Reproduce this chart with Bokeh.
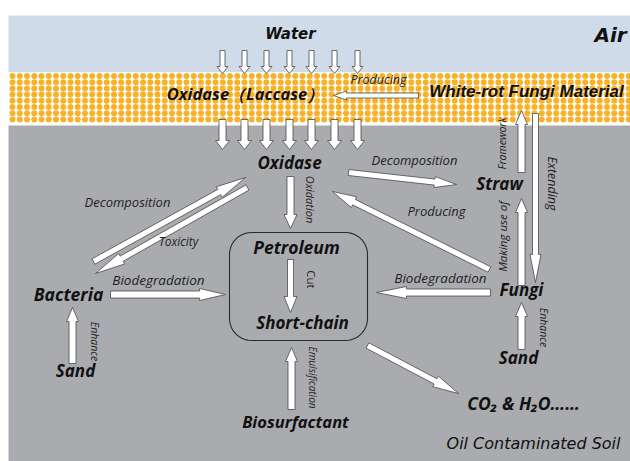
import numpy as np
from bokeh.plotting import figure
from bokeh.models import Range1d
from bokeh.core.properties import value
from bokeh.embed import file_html
from bokeh.resources import INLINE

# ---------------- data ----------------
# background layers (image-pixel coordinates)
layer_names = ["Air", "Oxidase layer", "Oil Contaminated Soil"]
layer_top = [15, 72, 125]
layer_bottom = [72, 125, 461]
layer_colors = ["#cfdbe9", "#ffffff", "#aaabaf"]

# main node labels (bold italic)
node_labels = ["Oxidase（Laccase）", "Oxidase", "Petroleum", "Short-chain", "Bacteria",
               "Sand", "Biosurfactant", "CO₂ & H₂O……", "Straw", "Fungi", "Sand"]
node_x = [245, 289, 296, 302, 68, 75, 295, 523, 499, 521, 518]
node_y = [93, 162, 246, 322, 293, 370, 421, 402, 183, 289, 357]
node_size = ["16.5px", "17px", "17.5px", "17px", "17.5px", "17px", "16.5px", "17.5px",
             "17px", "17px", "17px"]

# header labels
head_labels = ["Water", "Air", "White-rot Fungi Material"]
head_x = [290, 610, 526]
head_y = [33, 34, 91]
head_size = ["15px", "20px", "17px"]

# process labels (italic, horizontal)
proc_labels = ["Producing", "Decomposition", "Toxicity", "Biodegradation",
               "Decomposition", "Producing", "Biodegradation"]
proc_x = [378, 127, 178, 158, 414, 436, 440]
proc_y = [79, 201, 241, 279, 159, 210, 277]
proc_size = ["12.5px", "13px", "12px", "13.5px", "13px", "13px", "13.5px"]

# process labels (rotated)
rot_labels = ["Oxidation", "Cut", "Enhance", "Emulsification", "Extending",
              "Making use of", "Framework", "Enhance"]
rot_x = [310, 311, 94, 312, 552, 502, 501, 543]
rot_y = [199, 279, 341, 377, 183, 236, 143, 327]
rot_dir = [-1, -1, -1, -1, -1, 1, 1, -1]
rot_size = ["11px", "11.5px", "10.5px", "10px", "12.5px", "11.5px", "10.5px", "10.5px"]

# water / oxidase arrows columns
drop_x = [222, 244, 266, 289, 311, 334, 357]

# block arrows: tail x, tail y, tip x, tip y, shaft w, head w, head len
arr_x0 = [418, 290, 290, 93, 247, 110, 72, 291, 367, 348, 489, 490, 521, 535, 521, 521]
arr_y0 = [95, 176, 259, 261, 187, 294, 363, 409, 345, 172, 269, 292, 285, 113, 172, 349]
arr_x1 = [333, 290, 290, 245, 95, 225, 72, 291, 458, 456, 332, 376, 521, 535, 521, 521]
arr_y1 = [95, 228, 312, 177, 273, 294, 307, 347, 393, 184, 191, 292, 198, 282, 110, 302]
arr_sw = [5, 7, 6, 6, 6, 7, 7, 7, 6, 6, 6, 7, 7, 6, 7, 7]
arr_hw = [9, 13, 13, 12, 12, 12, 12, 12, 12, 11, 12, 12, 12, 11, 12, 12]
arr_hl = [13, 14, 16, 30, 30, 26, 14, 14, 26, 22, 24, 30, 14, 28, 14, 14]

# petroleum box
box = dict(left=229, right=367, top=232, bottom=340, r=22)


def block_arrow(x0, y0, x1, y1, sw, hw, hl):
    d = np.array([x1 - x0, y1 - y0], float)
    L = np.hypot(*d)
    u = d / L
    n = np.array([-u[1], u[0]])
    t = np.array([x0, y0], float)
    tip = np.array([x1, y1], float)
    b = tip - u * hl
    pts = [t + n * sw / 2, b + n * sw / 2, b + n * hw / 2, tip,
           b - n * hw / 2, b - n * sw / 2, t - n * sw / 2]
    return [q[0] for q in pts], [q[1] for q in pts]


def rounded_rect(l, r, t, b, rad):
    xs, ys = [], []
    corners = [(r - rad, t + rad, -np.pi / 2, 0), (r - rad, b - rad, 0, np.pi / 2),
               (l + rad, b - rad, np.pi / 2, np.pi), (l + rad, t + rad, np.pi, 1.5 * np.pi)]
    for cx, cy, a0, a1 in corners:
        a = np.linspace(a0, a1, 12)
        xs += list(cx + rad * np.cos(a))
        ys += list(cy + rad * np.sin(a))
    return xs, ys


W, H = 630, 461
p = figure(width=W, height=H, x_range=Range1d(0, 630), y_range=Range1d(461, 0),
           output_backend="svg", toolbar_location=None, min_border=0,
           x_axis_location=None, y_axis_location=None)
p.grid.visible = False
p.outline_line_color = None
p.background_fill_color = "white"
p.border_fill_color = "white"

# layers
p.quad(left=8, right=630, top=layer_top, bottom=layer_bottom,
       fill_color=layer_colors, line_color=None)

# orange dotted band texture
gx, gy = np.meshgrid(np.arange(12, 632, 7.25), 75.5 + np.arange(8) * 6.2)
p.scatter(gx.ravel(), gy.ravel(), marker="circle", size=6.0,
          fill_color="#f7b22a", line_color=None)

# water drops and oxidase arrows
AX, AY = [], []
for x in drop_x:
    xs, ys = block_arrow(x, 50, x, 73, 5, 11, 7)
    AX.append(xs); AY.append(ys)
    xs, ys = block_arrow(x, 119, x, 149, 7, 14, 9)
    AX.append(xs); AY.append(ys)
for i in range(len(arr_x0)):
    xs, ys = block_arrow(arr_x0[i], arr_y0[i], arr_x1[i], arr_y1[i],
                         arr_sw[i], arr_hw[i], arr_hl[i])
    AX.append(xs); AY.append(ys)
p.patches(AX, AY, fill_color="white", line_color="#4a4a4a", line_width=0.8)

# petroleum box
bx, by = rounded_rect(box["left"], box["right"], box["top"], box["bottom"], box["r"])
p.patch(bx, by, fill_color=None, line_color="#2a2a2a", line_width=1.1)

# texts
for i in range(len(node_labels)):
    p.text([node_x[i]], [node_y[i]], text=[node_labels[i]], text_font=value("Open Sans"),
           text_font_style="bold italic", text_font_size=node_size[i],
           text_align="center", text_baseline="middle", text_color="#111111")
for i in range(len(head_labels)):
    fnt = "Liberation Sans" if i == 2 else "DejaVu Sans"
    p.text([head_x[i]], [head_y[i]], text=[head_labels[i]], text_font=value(fnt),
           text_font_style="bold italic", text_font_size=head_size[i],
           text_align="center", text_baseline="middle", text_color="#111111")
for i in range(len(proc_labels)):
    p.text([proc_x[i]], [proc_y[i]], text=[proc_labels[i]], text_font=value("Open Sans"),
           text_font_style="italic", text_font_size=proc_size[i],
           text_align="center", text_baseline="middle", text_color="#1e1e1e")
for i in range(len(rot_labels)):
    style = "normal" if rot_labels[i] == "Cut" else "italic"
    p.text([rot_x[i]], [rot_y[i]], text=[rot_labels[i]], text_font=value("Open Sans"),
           text_font_style=style, text_font_size=rot_size[i],
           angle=rot_dir[i] * np.pi / 2,
           text_align="center", text_baseline="middle", text_color="#1e1e1e")
p.text([533], [443], text=["Oil Contaminated Soil"], text_font=value("DejaVu Sans"),
       text_font_style="italic", text_font_size="16px",
       text_align="center", text_baseline="middle", text_color="#111111")

open("out.html", "w").write(file_html(p, INLINE))
